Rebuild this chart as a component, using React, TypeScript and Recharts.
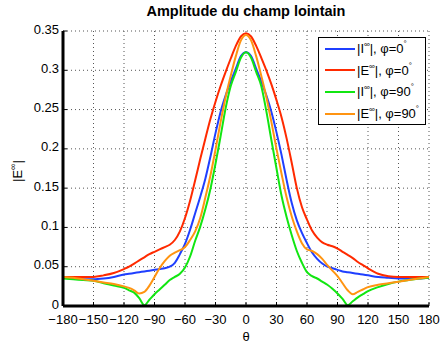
import { LineChart, Line, XAxis, YAxis, CartesianGrid } from "recharts";

// angle θ in degrees
const theta = [
  -180, -170, -160, -150, -140, -130, -120,
  -115, -110, -105, -100, -95, -90, -85, -80, -75, -70, -65, -60, -55, -50, -45, -40,
  -35, -30, -25, -20, -15, -10, -5, 0, 5, 10, 15, 20, 25, 30, 35,
  40, 45, 50, 55, 60, 65, 70, 75, 80, 85, 90, 95, 100, 105, 110, 115,
  120, 130, 140, 150, 160, 170, 180,
];

// |I∞|, φ=0
const iPhi0 = [
  0.036, 0.035, 0.034, 0.034, 0.035, 0.037, 0.04,
  0.041, 0.042, 0.043, 0.044, 0.045, 0.046, 0.047, 0.048, 0.05, 0.055, 0.066, 0.079, 0.097, 0.118, 0.139, 0.162,
  0.19, 0.22, 0.247, 0.268, 0.286, 0.302, 0.318, 0.323, 0.318, 0.302, 0.286, 0.268, 0.247, 0.221, 0.192,
  0.16, 0.131, 0.109, 0.093, 0.08, 0.068, 0.06, 0.054, 0.05, 0.048, 0.046, 0.044, 0.043, 0.042, 0.041, 0.04,
  0.039, 0.037, 0.036, 0.035, 0.035, 0.035, 0.036,
];

// |E∞|, φ=0
const ePhi0 = [
  0.037, 0.037, 0.037, 0.037, 0.039, 0.042, 0.047,
  0.05, 0.054, 0.058, 0.062, 0.066, 0.069, 0.072, 0.075, 0.078, 0.084, 0.095, 0.112, 0.134, 0.16, 0.187, 0.213,
  0.238, 0.26, 0.28, 0.298, 0.315, 0.331, 0.343, 0.347, 0.343, 0.331, 0.316, 0.3, 0.282, 0.262, 0.24,
  0.213, 0.182, 0.15, 0.126, 0.11, 0.096, 0.087, 0.081, 0.078, 0.076, 0.073, 0.069, 0.065, 0.061, 0.056, 0.052,
  0.048, 0.041, 0.038, 0.037, 0.037, 0.037, 0.037,
];

// |I∞|, φ=90
const iPhi90 = [
  0.035, 0.034, 0.033, 0.032, 0.029, 0.026, 0.023,
  0.02, 0.017, 0.01, 0.001, 0.008, 0.015, 0.021, 0.027, 0.033, 0.037, 0.041, 0.049, 0.063, 0.083, 0.101, 0.123,
  0.149, 0.181, 0.216, 0.252, 0.28, 0.298, 0.316, 0.323, 0.316, 0.298, 0.28, 0.248, 0.211, 0.175, 0.14,
  0.113, 0.09, 0.07, 0.055, 0.043, 0.038, 0.035, 0.031, 0.027, 0.022, 0.016, 0.009, 0.001, 0.006, 0.011, 0.015,
  0.019, 0.024, 0.028, 0.031, 0.033, 0.035, 0.036,
];

// |E∞|, φ=90
const ePhi90 = [
  0.037, 0.036, 0.034, 0.032, 0.03, 0.028, 0.025,
  0.023, 0.02, 0.016, 0.018, 0.026, 0.037, 0.048, 0.057, 0.064, 0.068, 0.071, 0.075, 0.084, 0.095, 0.112, 0.138,
  0.166, 0.199, 0.234, 0.266, 0.293, 0.318, 0.338, 0.345, 0.338, 0.318, 0.293, 0.266, 0.234, 0.2, 0.168,
  0.138, 0.114, 0.095, 0.08, 0.072, 0.07, 0.066, 0.06, 0.052, 0.045, 0.038, 0.029, 0.02, 0.015, 0.018, 0.021,
  0.024, 0.027, 0.029, 0.031, 0.033, 0.035, 0.037,
];

const xTicks = [-180, -150, -120, -90, -60, -30, 0, 30, 60, 90, 120, 150, 180];
const yTicks = [0, 0.05, 0.1, 0.15, 0.2, 0.25, 0.3, 0.35];

const SERIES = [
  { key: "iPhi0", values: iPhi0, color: "#1f3fff", field: "I", phi: "0" },
  { key: "ePhi0", values: ePhi0, color: "#ff2a00", field: "E", phi: "0" },
  { key: "iPhi90", values: iPhi90, color: "#11e611", field: "I", phi: "90" },
  { key: "ePhi90", values: ePhi90, color: "#ff9411", field: "E", phi: "90" },
];

const data = theta.map((t, i) => {
  const row: Record<string, number> = { theta: t };
  SERIES.forEach((s) => (row[s.key] = s.values[i]));
  return row;
});

const FONT = "'Liberation Sans', Arial, Helvetica, sans-serif";
const fmtX = (v: number) => (v < 0 ? "\u2212" + Math.abs(v) : String(v));
const fmtY = (v: number) => String(Number(v.toFixed(2)));

function YLabel() {
  return (
    <text
      x={0}
      y={0}
      transform="translate(22, 171) rotate(-90)"
      textAnchor="middle"
      fontFamily={FONT}
      fontSize={13}
      fill="#000"
    >
      |E<tspan dy={-6} fontSize={9}>∞</tspan>
      <tspan dy={6}>|</tspan>
    </text>
  );
}

function LegendBox() {
  return (
    <div
      style={{
        position: "absolute",
        left: 318,
        top: 37,
        width: 106,
        background: "#fff",
        border: "1.5px solid #000",
        fontFamily: FONT,
        fontSize: 13,
      }}
    >
      {SERIES.map((s) => (
        <div key={s.key} style={{ display: "flex", alignItems: "center", height: 21.6, whiteSpace: "nowrap" }}>
          <svg width={38} height={6} style={{ flexShrink: 0 }}>
            <line x1={6} x2={36} y1={3} y2={3} stroke={s.color} strokeWidth={2} />
          </svg>
          <span>
            |{s.field}
            <span style={{ fontSize: 8, position: "relative", top: -6 }}>∞</span>|, φ={s.phi}
            <span style={{ fontSize: 8, position: "relative", top: -7 }}>°</span>
          </span>
        </div>
      ))}
    </div>
  );
}

export default function App() {
  return (
    <div style={{ position: "absolute", left: 0, top: 0, width: 444, height: 345, background: "#fff", fontFamily: FONT }}>
      <div
        style={{
          position: "absolute",
          left: 63,
          width: 366,
          top: 3,
          textAlign: "center",
          fontWeight: "bold",
          fontSize: 14.5,
        }}
      >
        Amplitude du champ lointain
      </div>
      <LineChart width={444} height={345} data={data} margin={{ top: 31, right: 15, bottom: 0, left: 0 }}>
        <CartesianGrid stroke="#555" strokeDasharray="1 3" strokeWidth={1} />
        <XAxis
          dataKey="theta"
          type="number"
          domain={[-180, 180]}
          ticks={xTicks}
          tickFormatter={fmtX}
          height={39}
          tickSize={-4}
          tickMargin={13}
          interval={0}
          axisLine={{ stroke: "#000", strokeWidth: 3 }}
          tickLine={{ stroke: "#000" }}
          tick={{ fill: "#000", fontSize: 13, fontFamily: FONT }}
          label={{ value: "θ", position: "insideBottom", offset: 4, fill: "#000", fontSize: 13, fontFamily: FONT }}
        />
        <XAxis
          xAxisId="top"
          orientation="top"
          dataKey="theta"
          type="number"
          domain={[-180, 180]}
          ticks={xTicks}
          tickFormatter={() => ""}
          height={0}
          tickSize={-4}
          axisLine={{ stroke: "#000", strokeWidth: 3 }}
          tickLine={{ stroke: "#000" }}
        />
        <YAxis
          type="number"
          domain={[0, 0.35]}
          ticks={yTicks}
          tickFormatter={fmtY}
          width={63}
          tickSize={-4}
          tickMargin={8}
          interval={0}
          allowDataOverflow
          axisLine={{ stroke: "#000", strokeWidth: 3 }}
          tickLine={{ stroke: "#000" }}
          tick={{ fill: "#000", fontSize: 13, fontFamily: FONT, dy: -2 }}
          label={<YLabel />}
        />
        <YAxis
          yAxisId="right"
          orientation="right"
          type="number"
          domain={[0, 0.35]}
          ticks={yTicks}
          tickFormatter={() => ""}
          width={0}
          tickSize={-4}
          allowDataOverflow
          axisLine={{ stroke: "#000", strokeWidth: 3 }}
          tickLine={{ stroke: "#000" }}
        />
        {SERIES.map((s) => (
          <Line
            key={s.key}
            dataKey={s.key}
            type="monotone"
            stroke={s.color}
            strokeWidth={2}
            dot={false}
            isAnimationActive={false}
          />
        ))}
      </LineChart>
      <LegendBox />
    </div>
  );
}
